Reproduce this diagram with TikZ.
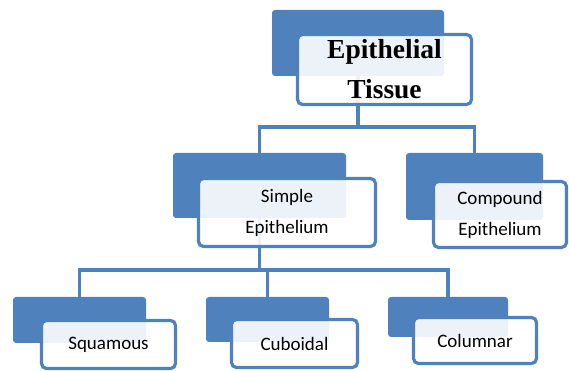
\documentclass[tikz,border=0pt]{standalone}
\usepackage{fontspec}
\setmainfont{Carlito}
\newfontfamily\titlefont{Liberation Serif}
\usetikzlibrary{backgrounds}
\definecolor{boxblue}{HTML}{4F81BD}

\begin{document}
\begin{tikzpicture}[
		x=1pt,y=1pt,
		backbox/.style={rectangle,rounded corners=3pt,fill=boxblue,draw=none},
		frontbox/.style={rectangle,rounded corners=5pt,draw=boxblue,line width=3.2pt,
			fill=white,fill opacity=0.9,text opacity=1,align=center,
			font=\fontsize{19}{31}\selectfont},
		link/.style={draw=boxblue,line width=3.6pt}
		]
		\useasboundingbox (0,0) rectangle (569,371);
		% top
		\node[backbox,minimum width=172pt,minimum height=66pt] (tissueback) at (358,328) {};
		\node[frontbox,minimum width=174pt,minimum height=70pt,
			font=\titlefont\bfseries\fontsize{27.5}{40}\selectfont] (tissue) at (384.5,301.5) {Epithelial\\Tissue};
		% second row
		\node[backbox,minimum width=173pt,minimum height=65pt] (simpleback) at (259.5,185.5) {};
		\node[frontbox,minimum width=177pt,minimum height=68pt] (simple) at (287,158.5) {Simple\\Epithelium};
		\node[backbox,minimum width=137pt,minimum height=67pt] (compoundback) at (474.5,184.5) {};
		\node[frontbox,minimum width=133pt,minimum height=66pt] (compound) at (500,156.5) {Compound\\Epithelium};
		% third row
		\node[backbox,minimum width=133pt,minimum height=46pt] (squamousback) at (79.5,51) {};
		\node[frontbox,minimum width=134pt,minimum height=48pt] (squamous) at (108.5,26.5) {Squamous};
		\node[backbox,minimum width=123pt,minimum height=45pt] (cuboidalback) at (267.5,51.5) {};
		\node[frontbox,minimum width=126pt,minimum height=48pt] (cuboidal) at (294.5,27.5) {Cuboidal};
		\node[backbox,minimum width=120pt,minimum height=40pt] (columnarback) at (448,54) {};
		\node[frontbox,minimum width=123pt,minimum height=46pt] (columnar) at (475,30.5) {Columnar};
		
		\coordinate (topbar) at (0,244);
		\coordinate (lowbar) at (0,101);
		\begin{pgfonlayer}{background}
			\draw[link] (tissueback.center) -- (tissueback |- topbar) -| (simpleback.north);
			\draw[link] (tissueback |- topbar) -| (compoundback.north);
			\draw[link] (simpleback.center) -- (simpleback |- lowbar) -| (squamousback.north);
			\draw[link] (simpleback |- lowbar) -| (cuboidalback.north);
			\draw[link] (simpleback |- lowbar) -| (columnarback.north);
		\end{pgfonlayer}
	\end{tikzpicture}
\end{document}
